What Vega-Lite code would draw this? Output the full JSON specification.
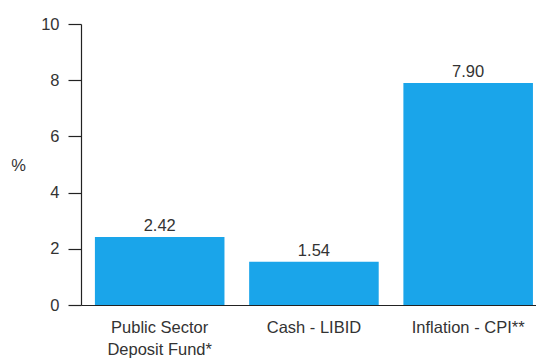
{
  "$schema": "https://vega.github.io/schema/vega-lite/v6.json",
  "autosize": "none",
  "width": 455,
  "height": 281,
  "padding": {"left": 81, "top": 24, "right": 0, "bottom": 56},
  "background": "white",
  "config": {
    "view": {"stroke": null},
    "font": "Liberation Sans",
    "axis": {"grid": false, "domainColor": "#222", "tickColor": "#222", "labelColor": "#333", "titleColor": "#333", "labelFontSize": 16.5, "titleFontSize": 16.5, "titleFontWeight": "normal"}
  },
  "data": {
    "values": [
      {"label": "Public Sector|Deposit Fund*", "value": 2.42},
      {"label": "Cash - LIBID", "value": 1.54},
      {"label": "Inflation - CPI**", "value": 7.90}
    ]
  },
  "encoding": {
    "x": {
      "field": "label", "type": "nominal", "sort": null,
      "scale": {"paddingInner": 0.16, "paddingOuter": 0.055, "align": 0.82},
      "axis": {"title": null, "labelAngle": 0, "ticks": false, "labelPadding": 14, "labelExpr": "split(datum.label, '|')", "labelLineHeight": 22, "domainWidth": 1.2}
    },
    "y": {
      "field": "value", "type": "quantitative",
      "scale": {"domain": [0, 10]},
      "axis": {"values": [0, 2, 4, 6, 8, 10], "title": "%", "titleAngle": 0, "titleX": -63, "titleY": 141, "titleAlign": "center", "titleBaseline": "middle", "tickSize": 13, "labelPadding": 9, "domainWidth": 1.2, "tickWidth": 1.2}
    }
  },
  "layer": [
    {"mark": {"type": "bar", "color": "#1aa5ea"}},
    {"mark": {"type": "text", "baseline": "bottom", "dy": -3, "fontSize": 16.5, "color": "#333"},
     "encoding": {"text": {"field": "value", "type": "quantitative", "format": ".2f"}}}
  ]
}
